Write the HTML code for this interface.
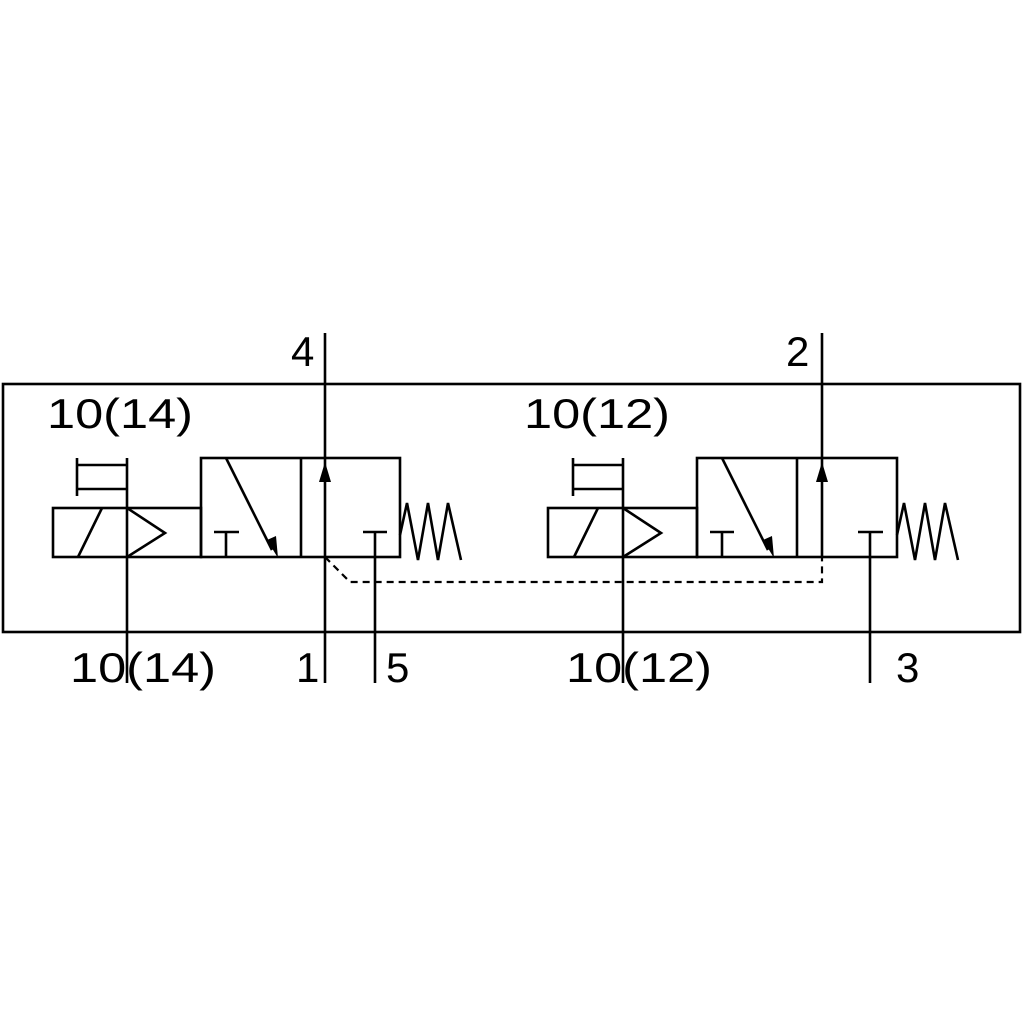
<!DOCTYPE html>
<html><head><style>html,body{margin:0;padding:0;background:#fff}svg{display:block}</style></head>
<body>
<svg width="1024" height="1024" viewBox="0 0 1024 1024" xmlns="http://www.w3.org/2000/svg">
<rect width="1024" height="1024" fill="#fff"/>
<g fill="none" stroke="#000" stroke-width="2.6">
<rect x="3" y="384" width="1017" height="248"/>
<rect x="53" y="508" width="148" height="49"/>
<rect x="201" y="458" width="199" height="99"/>
<line x1="301" y1="458" x2="301" y2="557"/>
<line x1="77" y1="458" x2="77" y2="496"/>
<line x1="77" y1="465" x2="127" y2="465"/>
<line x1="77" y1="489" x2="127" y2="489"/>
<line x1="127" y1="458" x2="127" y2="683"/>
<line x1="102" y1="508" x2="78" y2="557"/>
<polyline points="127,508 165,533 127,557"/>
<line x1="214" y1="532" x2="239" y2="532"/><line x1="226" y1="532" x2="226" y2="557"/>
<line x1="226" y1="458" x2="272" y2="550"/>
<line x1="325" y1="333" x2="325" y2="683"/>
<line x1="363" y1="532" x2="387" y2="532"/><line x1="375" y1="532" x2="375" y2="683"/>
<polyline points="400,535 407,503 418,560 428,503 438,560 448,503 461,560"/>
<rect x="548" y="508" width="149" height="49"/>
<rect x="697" y="458" width="200" height="99"/>
<line x1="797" y1="458" x2="797" y2="557"/>
<line x1="573" y1="458" x2="573" y2="496"/>
<line x1="573" y1="465" x2="623" y2="465"/>
<line x1="573" y1="489" x2="623" y2="489"/>
<line x1="623" y1="458" x2="623" y2="683"/>
<line x1="598" y1="508" x2="574" y2="557"/>
<polyline points="623,508 661,533 623,557"/>
<line x1="710" y1="532" x2="734" y2="532"/><line x1="722" y1="532" x2="722" y2="557"/>
<line x1="722" y1="458" x2="768" y2="550"/>
<line x1="822" y1="333" x2="822" y2="557"/>
<line x1="858" y1="532" x2="883" y2="532"/><line x1="870" y1="532" x2="870" y2="683"/>
<polyline points="897,535 904,503 915,560 925,503 935,560 945,503 958,560"/>
<polyline points="325,557 350,582 822,582 822,557" stroke-width="2.2" stroke-dasharray="7,5"/>
</g>
<g fill="#000">
<polygon points="325,462 319,482 331,482"/>
<polygon points="822,462 816,482 828,482"/>
<polygon points="278,558 267,540 276,536"/>
<polygon points="774,558 763,540 772,536"/>
</g>
<g font-family="Liberation Sans, sans-serif" font-size="42" fill="#000">
<text x="291" y="366">4</text>
<text x="786" y="366">2</text>
<text x="47" y="428" textLength="146" lengthAdjust="spacingAndGlyphs">10(14)</text>
<text x="524" y="428" textLength="146" lengthAdjust="spacingAndGlyphs">10(12)</text>
<text x="70" y="682" textLength="146" lengthAdjust="spacingAndGlyphs">10(14)</text>
<text x="566" y="682" textLength="146" lengthAdjust="spacingAndGlyphs">10(12)</text>
<text x="296" y="682">1</text>
<text x="386" y="682">5</text>
<text x="896" y="682">3</text>
</g>
</svg>
</body></html>
